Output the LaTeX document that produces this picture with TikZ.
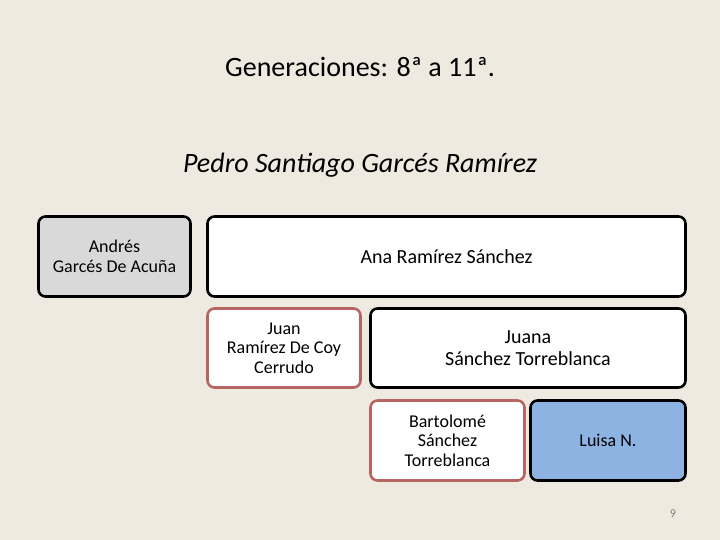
\documentclass[tikz,border=0pt]{standalone}
\usepackage{fontspec}
\setmainfont{Carlito}
\usetikzlibrary{positioning}
\definecolor{slidebg}{RGB}{238,234,224}
\definecolor{boxgray}{RGB}{217,217,217}
\definecolor{boxblue}{RGB}{141,179,226}
\definecolor{brickline}{RGB}{183,101,99}

\begin{document}
\begin{tikzpicture}[x=1pt,y=-1pt]
\tikzset{person/.style={rectangle,rounded corners=7pt,draw=black,line width=2.6pt,fill=white,align=center,font=\fontsize{18}{19.5}\selectfont,inner sep=2pt}}
\tikzset{ancestor/.style={person,draw=brickline}}
\tikzset{bigname/.style={font=\fontsize{20}{22}\selectfont}}
\fill[slidebg] (0,0) rectangle (720,540);
\useasboundingbox (0,0) rectangle (720,540);
\node(title) at (360,67){\fontsize{28}{32}\selectfont Generaciones: 8ª a 11ª.};
\node(root) at (360,165){\fontsize{28}{32}\selectfont\itshape Pedro Santiago Garcés Ramírez};
\node[person,fill=boxgray,minimum width=152pt,minimum height=80pt](andres) at (114.5,256.5){Andrés\\Garcés De Acuña};
\node[person,bigname,minimum width=478pt,minimum height=80pt](ana) at (446.5,256.5){Ana Ramírez Sánchez};
\node[ancestor,minimum width=153pt,minimum height=79pt](juan) at (284,348){Juan\\Ramírez De Coy\\Cerrudo};
\node[person,bigname,minimum width=315pt,minimum height=79pt](juana) at (528,348){Juana\\Sánchez Torreblanca};
\node[ancestor,minimum width=154pt,minimum height=80pt](bartolome) at (447.5,440.5){Bartolomé\\Sánchez\\Torreblanca};
\node[person,fill=boxblue,minimum width=155pt,minimum height=80pt](luisa) at (608,440.5){Luisa N.};
\node[text=gray,font=\fontsize{12}{14}\selectfont](page) at (673,514){9};
\end{tikzpicture}
\end{document}
